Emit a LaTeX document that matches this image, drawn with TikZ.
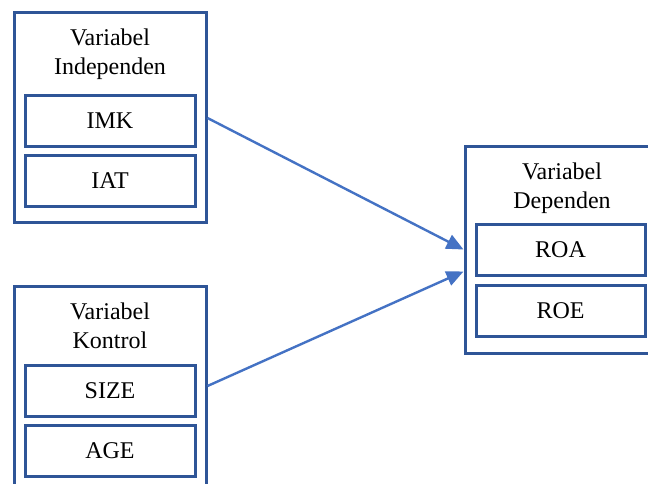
\documentclass[tikz,border=0pt]{standalone}
\usepackage{fontspec}
\setmainfont{Liberation Serif}
\usetikzlibrary{arrows.meta}
\definecolor{boxblue}{HTML}{2F5597}
\definecolor{arrowblue}{HTML}{4472C4}
\tikzset{
  outerbox/.style={draw=boxblue, line width=3pt, rectangle, inner sep=0pt, minimum width=192pt, fill=white},
  innerbox/.style={draw=boxblue, line width=3pt, rectangle, inner sep=0pt, minimum width=170pt, minimum height=51pt, font=\fontsize{24}{29}\selectfont},
  titletext/.style={inner sep=0pt, anchor=north, align=center, font=\fontsize{24}{29.5}\selectfont},
  link/.style={draw=arrowblue, line width=2.4pt, -{Triangle[length=17pt,width=15pt]}}
}
\begin{document}
\begin{tikzpicture}[x=1pt,y=-1pt]
\useasboundingbox (0,0) rectangle (648,483);
\clip (0,0) rectangle (648,483);
\fill[white] (0,0) rectangle (648,483);
% independent
\node[outerbox, minimum height=210pt] (ind) at (110,117) {};
\node[titletext] (indt) at (110,28.6) {Variabel\\Independen};
\node[innerbox] (imk) at (110,121) {IMK};
\node[innerbox] (iat) at (110,180.5) {IAT};
% control
\node[outerbox, minimum height=212pt] (ctl) at (110,392) {};
\node[titletext] (ctlt) at (110,302.6) {Variabel\\Kontrol};
\node[innerbox] (size) at (110,390.5) {SIZE};
\node[innerbox] (age) at (110,451) {AGE};
% dependent
\node[outerbox, minimum width=194pt, minimum height=207pt] (dep) at (562,249.5) {};
\node[titletext] (dept) at (562,162.6) {Variabel\\Dependen};
\node[innerbox, minimum width=169pt] (roa) at (560.5,250) {ROA};
\node[innerbox, minimum width=169pt] (roe) at (560.5,310.5) {ROE};
% arrows
\coordinate (a1) at ([yshift=3pt]ind.east |- imk.center);
\coordinate (a2) at ([yshift=4.5pt]ctl.east |- size.center);
\coordinate (b2) at ([yshift=-22pt]dep.west);
\draw[link] (a1) -- (dep.west);
\draw[link] (a2) -- (b2);
\end{tikzpicture}
\end{document}
